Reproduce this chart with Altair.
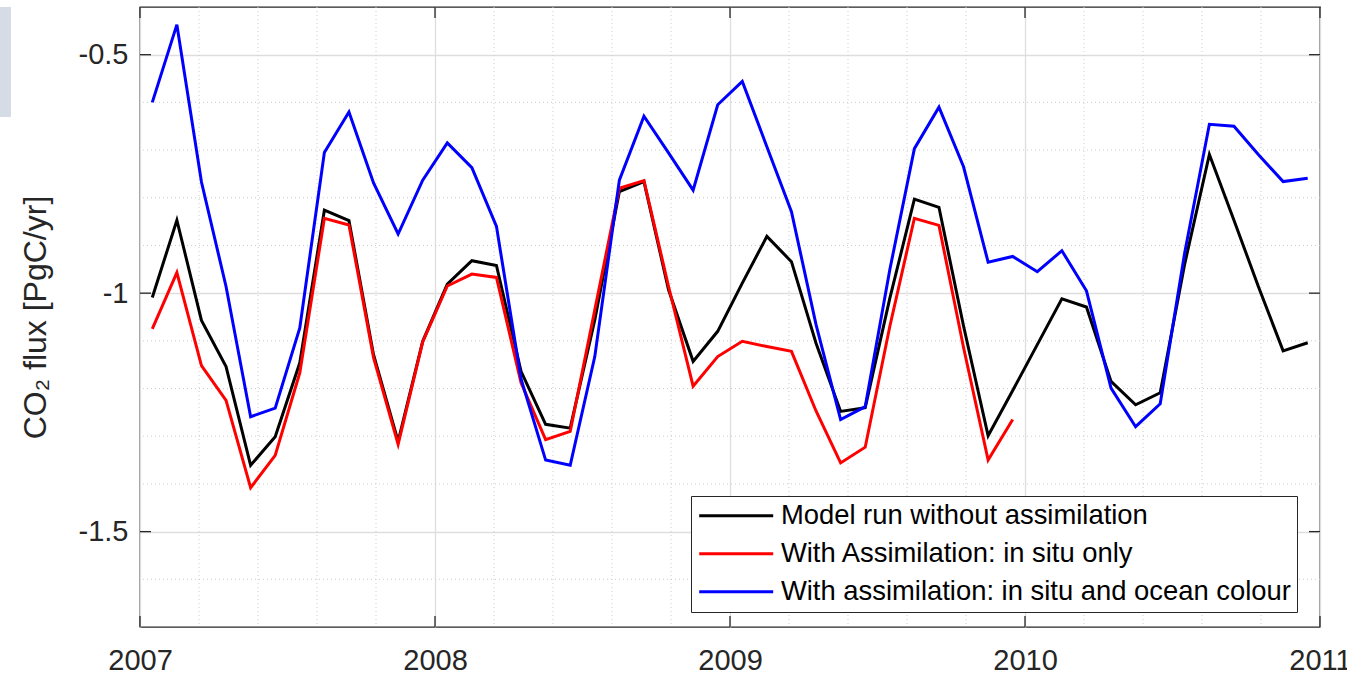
import altair as alt
import pandas as pd

# ---------------- data ----------------
months = pd.date_range("2007-01-01", periods=48, freq="MS")

series_names = [
    "Model run without assimilation",
    "With Assimilation: in situ only",
    "With assimilation: in situ and ocean colour",
]
series_colors = ["#000000", "#ff0000", "#0000ff"]

no_assimilation = [
    -1.009, -0.847, -1.057, -1.154, -1.361, -1.301, -1.146, -0.826, -0.848, -1.129, -1.311, -1.101,
    -0.981, -0.932, -0.942, -1.164, -1.275, -1.283, -1.056, -0.787, -0.766, -0.993, -1.143, -1.080,
    -0.979, -0.881, -0.934, -1.105, -1.248, -1.240, -1.011, -0.803, -0.820, -1.069, -1.299, -1.204,
    -1.108, -1.012, -1.029, -1.185, -1.234, -1.209, -0.938, -0.709, -0.847, -0.987, -1.121, -1.104,
]
in_situ_only = [
    -1.075, -0.957, -1.152, -1.225, -1.408, -1.340, -1.167, -0.843, -0.857, -1.135, -1.317, -1.102,
    -0.985, -0.960, -0.967, -1.188, -1.307, -1.290, -1.035, -0.780, -0.764, -0.986, -1.195, -1.133,
    -1.101, -1.112, -1.122, -1.247, -1.356, -1.323, -1.070, -0.843, -0.858, -1.114, -1.350, -1.265,
]
in_situ_ocean_colour = [
    -0.600, -0.437, -0.767, -0.986, -1.259, -1.241, -1.073, -0.705, -0.620, -0.769, -0.876, -0.763,
    -0.685, -0.737, -0.860, -1.180, -1.350, -1.361, -1.133, -0.763, -0.629, -0.706, -0.784, -0.605,
    -0.556, -0.693, -0.829, -1.066, -1.265, -1.238, -0.951, -0.697, -0.610, -0.735, -0.935, -0.923,
    -0.955, -0.911, -0.995, -1.199, -1.280, -1.232, -0.914, -0.646, -0.650, -0.710, -0.766, -0.759,
]

x_major = [2007, 2008, 2009, 2010, 2011]
y_major = [-1.5, -1.0, -0.5]
x_minor = [y + f for y in [2007, 2008, 2009, 2010] for f in [0.2, 0.4, 0.6, 0.8]]
y_minor = [-1.6, -1.4, -1.3, -1.2, -1.1, -0.9, -0.8, -0.7, -0.6]

# ---------------- tables ----------------
rows = []
for name, vals in zip(series_names, [no_assimilation, in_situ_only, in_situ_ocean_colour]):
    for i, v in enumerate(vals):
        t = months[i]
        rows.append({"series": name, "year": t.year + (t.month - 0.5) / 12.0, "flux": v})
df = pd.DataFrame(rows)

xminor_df = pd.DataFrame({"year": x_minor})
yminor_df = pd.DataFrame({"flux": y_minor})
xtick_df = pd.DataFrame({"year": x_major})
ytick_df = pd.DataFrame({"flux": y_major})

FONT = "Liberation Sans"
AXC = "#262626"
W, H = 1180, 620

xscale = alt.Scale(domain=[2007, 2011], nice=False, zero=False)
yscale = alt.Scale(domain=[-1.7, -0.4], nice=False, zero=False)

x_axis = alt.Axis(values=x_major, format="d", title=None, labelFontSize=29,
                  labelPadding=19, labelFlush=False, labelOverlap=False,
                  labelBound=False, ticks=False, domain=False, grid=True,
                  gridColor="#dedede", gridWidth=1.3, labelColor=AXC, labelFont=FONT)
y_axis = alt.Axis(values=y_major, labelExpr="'' + datum.value",
                  title="CO₂ flux [PgC/yr]", titleFontSize=32, titleFont=FONT,
                  titleFontWeight="normal", titleColor=AXC, titlePadding=26,
                  labelFontSize=29, labelPadding=12, labelColor=AXC, labelFont=FONT,
                  ticks=False, domain=False, grid=True, gridColor="#dedede",
                  gridWidth=1.3, labelOverlap=False)

X = lambda: alt.X("year:Q", scale=xscale, axis=x_axis)
Y = lambda: alt.Y("flux:Q", scale=yscale, axis=y_axis)

lines = alt.Chart(df).mark_line(strokeWidth=3).encode(
    x=X(),
    y=Y(),
    color=alt.Color("series:N",
                    scale=alt.Scale(domain=series_names, range=series_colors),
                    sort=series_names,
                    legend=alt.Legend(orient="none", legendX=551, legendY=489,
                                      fillColor="white", strokeColor=AXC, padding=6,
                                      symbolType="M-3.083,0H3.083", symbolSize=576,
                                      symbolStrokeWidth=3, symbolOffset=25.5,
                                      labelFontSize=27.4, labelFont=FONT,
                                      labelColor="black", rowPadding=9,
                                      labelOffset=31, labelLimit=0, title=None)),
)

minor_x = alt.Chart(xminor_df).mark_rule(color="#cccccc", strokeWidth=1, strokeDash=[1, 3]).encode(
    x=X()
)
minor_y = alt.Chart(yminor_df).mark_rule(color="#cccccc", strokeWidth=1, strokeDash=[1, 3]).encode(
    y=Y()
)

tick_style = dict(color=AXC, strokeWidth=1.3)
xt_bottom = alt.Chart(xtick_df).mark_rule(**tick_style).encode(
    x=X(), y=alt.value(H), y2=alt.value(H - 11))
xt_top = alt.Chart(xtick_df).mark_rule(**tick_style).encode(
    x=X(), y=alt.value(0), y2=alt.value(11))
yt_left = alt.Chart(ytick_df).mark_rule(**tick_style).encode(
    y=Y(), x=alt.value(0), x2=alt.value(11))
yt_right = alt.Chart(ytick_df).mark_rule(**tick_style).encode(
    y=Y(), x=alt.value(W), x2=alt.value(W - 11))

corner_patch = alt.Chart(alt.Data(values=[{"k": 1}])).mark_rect(color="#d6dce5").encode(
    x=alt.value(-140), x2=alt.value(-129), y=alt.value(0), y2=alt.value(110))

chart = alt.layer(
    minor_x, minor_y, lines, xt_bottom, xt_top, yt_left, yt_right, corner_patch
).properties(
    width=W, height=H,
    autosize=alt.AutoSizeParams(type="none"),
    padding={"left": 140, "top": 7, "right": 27, "bottom": 48},
    background="white",
).configure_view(stroke=AXC, strokeWidth=1.3)

chart.save("out.html", embed_options={"renderer": "svg", "actions": False})
